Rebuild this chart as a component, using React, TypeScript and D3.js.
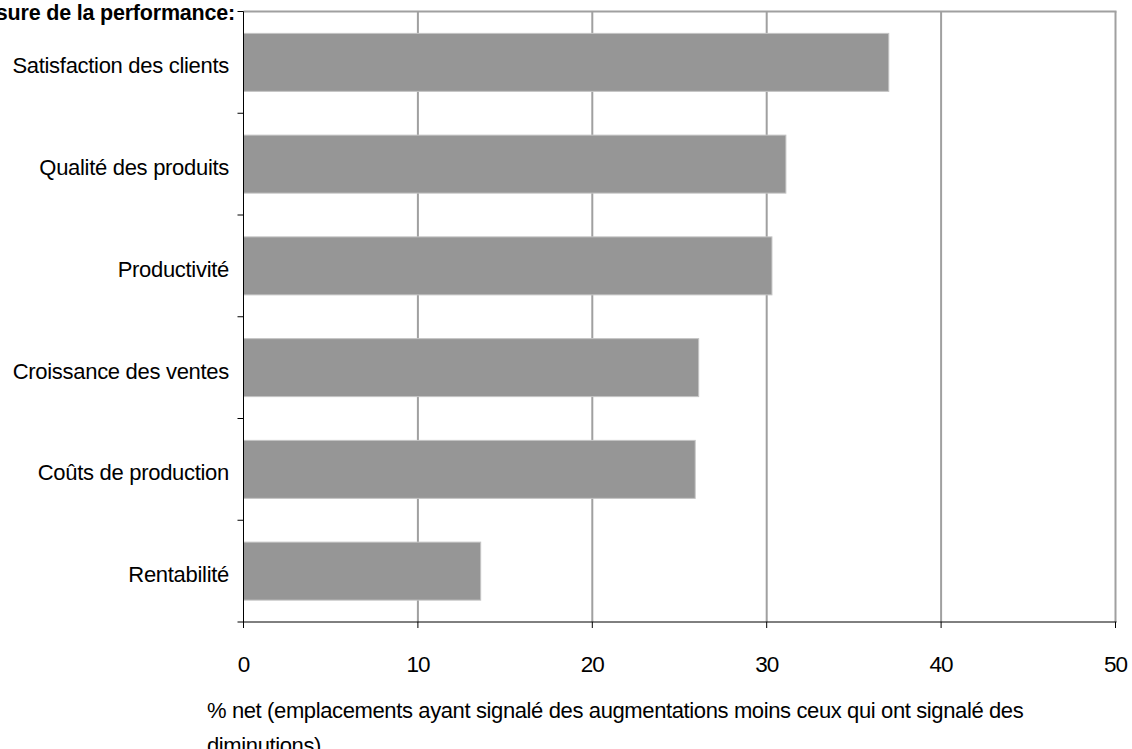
import React from "react";
import * as d3 from "d3";

const categories = [
  "Satisfaction des clients",
  "Qualité des produits",
  "Productivité",
  "Croissance des ventes",
  "Coûts de production",
  "Rentabilité",
];
const values = [37.0, 31.1, 30.3, 26.1, 25.9, 13.6];
const xTicks = [0, 10, 20, 30, 40, 50];
const title = "Mesure de la performance:";
const axisLabelLines = [
  "% net (emplacements ayant signalé des augmentations moins ceux qui ont signalé des",
  "diminutions)",
];

const W = 1132;
const H = 749;
const left = 243.5;
const right = 1115.5;
const top = 11.5;
const bottom = 622;
const font = "'Liberation Sans', Arial, sans-serif";

export default function App() {
  const x = d3.scaleLinear().domain([0, 50]).range([left, right]);
  const y = d3
    .scaleBand<string>()
    .domain(categories)
    .range([top, bottom])
    .paddingInner(0.43)
    .paddingOuter(0.215);
  const band = (bottom - top) / categories.length;
  const boundaries = d3.range(categories.length + 1).map((i) => top + i * band);

  return (
    <svg
      width={W}
      height={H}
      style={{ position: "absolute", left: 0, top: 0, background: "#fff" }}
      fontFamily={font}
    >
      {/* vertical gridlines */}
      {xTicks.slice(1).map((t) => (
        <line key={"g" + t} x1={x(t)} x2={x(t)} y1={top} y2={bottom} stroke="#a0a0a0" strokeWidth={2} />
      ))}
      {/* top border of plot area */}
      <line x1={left} x2={right + 1} y1={top} y2={top} stroke="#a0a0a0" strokeWidth={2} />

      {/* bars */}
      {categories.map((c, i) => (
        <rect
          key={c}
          x={x(0)}
          y={y(c)!}
          width={x(values[i]) - x(0)}
          height={y.bandwidth()}
          fill="#969696"
          stroke="#c4c4c4"
          strokeWidth={1}
        />
      ))}

      {/* axes */}
      <line x1={left} x2={left} y1={top} y2={bottom + 6} stroke="#000" strokeWidth={1} />
      <line x1={left - 6} x2={right + 1} y1={bottom} y2={bottom} stroke="#000" strokeWidth={1} />
      {boundaries.slice(0, -1).map((b, i) => (
        <line key={"yt" + i} x1={left - 6} x2={left} y1={b} y2={b} stroke="#000" strokeWidth={1} />
      ))}
      {xTicks.map((t) => (
        <line key={"xt" + t} x1={x(t)} x2={x(t)} y1={bottom} y2={bottom + 6} stroke="#000" strokeWidth={1} />
      ))}

      {/* category labels */}
      {categories.map((c) => (
        <text
          key={"l" + c}
          x={229}
          y={y(c)! + y.bandwidth() / 2 + 11}
          textAnchor="end"
          fontSize={22}
          letterSpacing={-0.3}
          fill="#000"
        >
          {c}
        </text>
      ))}

      {/* x tick labels */}
      {xTicks.map((t) => (
        <text
          key={"xl" + t}
          x={x(t)}
          y={672}
          textAnchor="middle"
          fontSize={22.5}
          letterSpacing={-1}
          fill="#000"
        >
          {t}
        </text>
      ))}

      {/* title */}
      <text x={235} y={20} textAnchor="end" fontSize={21.5} fontWeight="bold" letterSpacing={-0.2} fill="#000">
        {title}
      </text>

      {/* axis title */}
      {axisLabelLines.map((line, i) => (
        <text key={"a" + i} x={207} y={718 + i * 35} fontSize={22} letterSpacing={-0.38} fill="#000">
          {line}
        </text>
      ))}
    </svg>
  );
}
